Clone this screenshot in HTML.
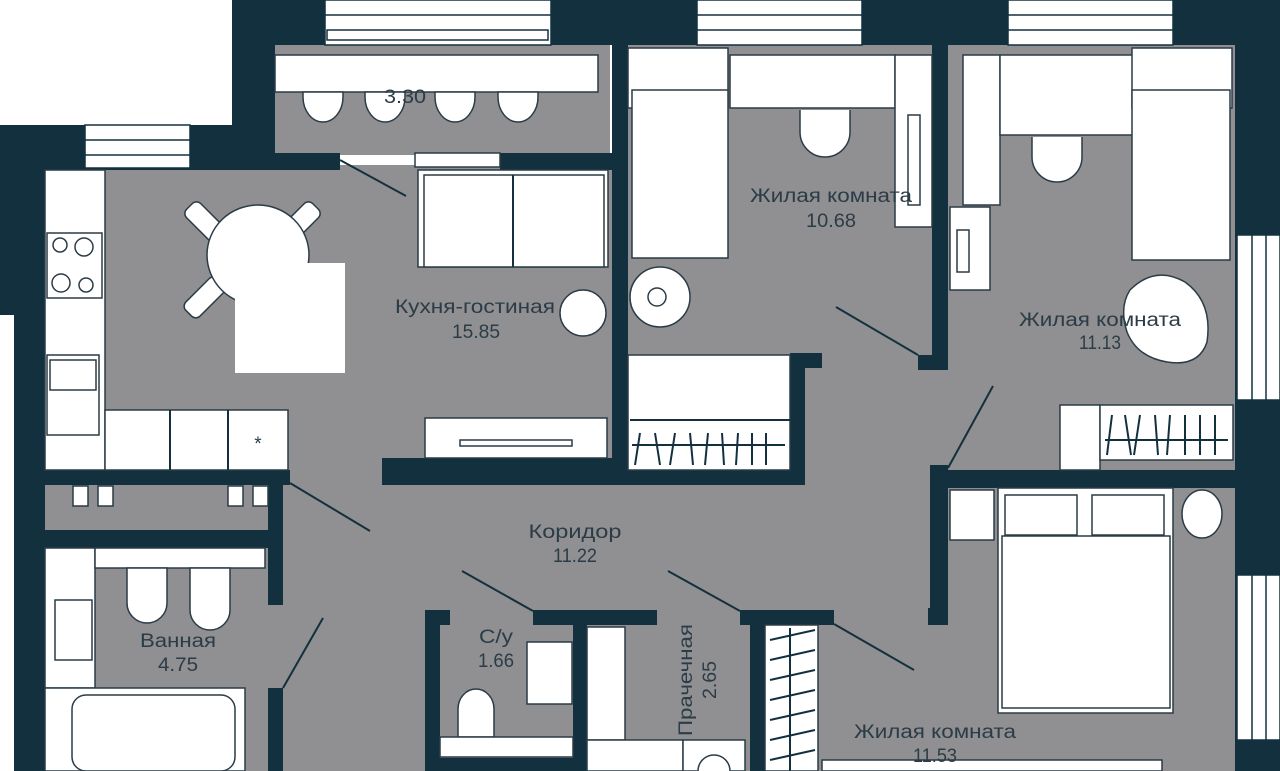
<!DOCTYPE html>
<html><head><meta charset="utf-8"><style>
html,body{margin:0;padding:0;background:#fff;}
svg{display:block}
text{font-family:"Liberation Sans",sans-serif;fill:#2b3c47;font-size:19px;text-anchor:middle}
</style></head><body>
<svg width="1280" height="771" viewBox="0 0 1280 771" xmlns="http://www.w3.org/2000/svg">
<defs><style>.w{fill:#fff;stroke:#2b3c47;stroke-width:1.5}.d{fill:#13303f}.l{stroke:#13303f;stroke-width:2;fill:none}</style></defs>
<rect x="40" y="165" width="1200" height="606" fill="#908f91"/>
<rect x="275" y="45" width="335" height="110" fill="#908f91"/>
<rect x="628" y="45" width="307" height="320" fill="#908f91"/>
<rect x="948" y="45" width="290" height="430" fill="#908f91"/>
<rect class="d" x="232" y="0" width="1048" height="45"/>
<rect class="d" x="232" y="0" width="43" height="170"/>
<rect class="d" x="0" y="125" width="275" height="45"/>
<rect class="d" x="0" y="125" width="45" height="190"/>
<rect class="d" x="14" y="300" width="31" height="471"/>
<rect class="d" x="1235" y="0" width="45" height="771"/>
<g fill="#fff" stroke="#13303f" stroke-width="1.5">
<rect x="325" y="0" width="226" height="45"/><line x1="325" y1="15" x2="551" y2="15"/><rect x="327" y="30" width="221" height="10"/>
<rect x="697" y="0" width="165" height="45"/><line x1="697" y1="15" x2="862" y2="15"/><line x1="697" y1="30" x2="862" y2="30"/>
<rect x="1008" y="0" width="165" height="45"/><line x1="1008" y1="15" x2="1173" y2="15"/><line x1="1008" y1="30" x2="1173" y2="30"/>
<rect x="85" y="125" width="105" height="43"/><line x1="85" y1="140" x2="190" y2="140"/><line x1="85" y1="155" x2="190" y2="155"/>
<rect x="1237" y="235" width="43" height="165"/><line x1="1252" y1="235" x2="1252" y2="400"/><line x1="1266" y1="235" x2="1266" y2="400"/>
<rect x="1237" y="575" width="43" height="165"/><line x1="1252" y1="575" x2="1252" y2="740"/><line x1="1266" y1="575" x2="1266" y2="740"/>
</g>
<rect class="d" x="232" y="153" width="108" height="17"/>
<rect class="d" x="500" y="153" width="128" height="17"/>
<rect class="w" x="415" y="153" width="85" height="14"/>
<rect class="d" x="612" y="45" width="16" height="425"/>
<rect class="d" x="932" y="45" width="16" height="325"/>
<rect class="d" x="918" y="355" width="30" height="15"/>
<rect class="d" x="382" y="458" width="423" height="27"/>
<rect class="d" x="790" y="353" width="15" height="132"/>
<rect class="d" x="790" y="353" width="32" height="15"/>
<rect class="d" x="45" y="470" width="245" height="15"/>
<rect class="d" x="45" y="530" width="238" height="18"/>
<rect class="d" x="268" y="485" width="15" height="120"/>
<rect class="d" x="268" y="688" width="15" height="83"/>
<g class="w"><rect x="73" y="486" width="15" height="20"/><rect x="98" y="486" width="15" height="20"/><rect x="228" y="486" width="15" height="20"/><rect x="253" y="486" width="15" height="20"/></g>
<rect class="d" x="935" y="470" width="300" height="18"/>
<rect class="d" x="930" y="465" width="18" height="160"/>
<rect class="d" x="928" y="608" width="20" height="17"/>
<rect class="d" x="425" y="610" width="15" height="161"/>
<rect class="d" x="425" y="610" width="25" height="15"/>
<rect class="d" x="533" y="610" width="124" height="15"/>
<rect class="d" x="573" y="610" width="14" height="161"/>
<rect class="d" x="440" y="758" width="135" height="13"/>
<rect class="d" x="740" y="610" width="94" height="15"/>
<rect class="d" x="750" y="610" width="15" height="161"/>
<rect class="w" x="275" y="55" width="323" height="37"/>
<g class="w"><path d="M303 92 v5 a20 25 0 0 0 40 0 v-5Z"/><path d="M365 92 v5 a20 25 0 0 0 40 0 v-5Z"/><path d="M435 92 v5 a20 25 0 0 0 40 0 v-5Z"/><path d="M498 92 v5 a20 25 0 0 0 40 0 v-5Z"/></g>
<rect class="w" x="45" y="170" width="60" height="300"/>
<rect class="w" x="47" y="233" width="55" height="65"/>
<circle class="w" cx="60" cy="245" r="7"/><circle class="w" cx="84" cy="247" r="9"/><circle class="w" cx="61" cy="283" r="9"/><circle class="w" cx="86" cy="285" r="7"/>
<rect class="w" x="47" y="355" width="52" height="80"/><rect class="w" x="50" y="360" width="46" height="30"/>
<rect class="w" x="105" y="410" width="183" height="60"/><line class="l" x1="170" y1="410" x2="170" y2="470"/><line class="l" x1="228" y1="410" x2="228" y2="470"/>
<text x="258" y="450" font-size="26">*</text>
<g class="w"><rect x="195" y="200" width="20" height="45" rx="6" transform="rotate(-45 205 222)"/><rect x="290" y="200" width="20" height="45" rx="6" transform="rotate(45 300 222)"/><rect x="195" y="275" width="20" height="45" rx="6" transform="rotate(45 205 297)"/></g>
<ellipse class="w" cx="258" cy="255" rx="51" ry="50"/>
<rect x="235" y="263" width="110" height="110" fill="#fff"/>
<line class="l" x1="340" y1="160" x2="406" y2="196"/>
<rect class="w" x="418" y="170" width="190" height="97"/><rect class="w" x="424" y="175" width="180" height="92"/><line class="l" x1="513" y1="175" x2="513" y2="267"/>
<circle class="w" cx="583" cy="313" r="23"/>
<rect class="w" x="425" y="418" width="182" height="40"/><rect class="w" x="460" y="440" width="112" height="6"/>
<text x="475" y="313" textLength="160" lengthAdjust="spacingAndGlyphs">Кухня-гостиная</text><text x="476" y="338" textLength="48" lengthAdjust="spacingAndGlyphs">15.85</text>
<text x="405" y="103" textLength="42" lengthAdjust="spacingAndGlyphs">3.30</text>
<rect class="w" x="628" y="48" width="100" height="60"/><rect class="w" x="632" y="90" width="96" height="168"/>
<rect class="w" x="730" y="55" width="165" height="53"/>
<rect class="w" x="895" y="55" width="37" height="172"/>
<rect class="w" x="908" y="115" width="12" height="90"/>
<path class="w" d="M800 110 v22 a25 25 0 0 0 50 0 v-22"/>
<circle class="w" cx="660" cy="297" r="30"/><circle class="w" cx="657" cy="297" r="9"/>
<line class="l" x1="836" y1="307" x2="918" y2="355"/>
<rect class="w" x="628" y="355" width="162" height="115"/><line class="l" x1="630" y1="420" x2="790" y2="420"/>
<path class="l" d="M640 433 l-5 32 M655 433 l5 32 M675 433 l-5 32 M690 433 l3 32 M708 433 l-3 32 M722 433 l2 32 M738 433 l-2 32 M752 433 l0 32 M766 433 l0 32 M632 445 H785" stroke-width="1.5"/>
<text x="831" y="202" textLength="162" lengthAdjust="spacingAndGlyphs">Жилая комната</text><text x="831" y="227" textLength="50" lengthAdjust="spacingAndGlyphs">10.68</text>
<rect class="w" x="963" y="55" width="37" height="150"/><rect class="w" x="950" y="207" width="40" height="83"/><rect class="w" x="957" y="230" width="12" height="42"/>
<rect class="w" x="1000" y="55" width="135" height="80"/>
<rect class="w" x="1132" y="48" width="100" height="60"/><rect class="w" x="1132" y="90" width="98" height="170"/>
<path class="w" d="M1032 137 v20 a25 25 0 0 0 50 0 v-20"/>
<path class="w" d="M1130 290 q25 -25 55 -8 q28 20 22 60 q-8 25 -40 20 q-30 -5 -40 -30 q-8 -25 3 -42Z"/>
<line class="l" x1="993" y1="386" x2="948" y2="468"/>
<rect class="w" x="1060" y="405" width="40" height="65"/><rect class="w" x="1100" y="405" width="133" height="55"/>
<path class="l" d="M1112 415 l-5 40 M1125 415 l6 40 M1140 415 l-6 40 M1155 415 l3 40 M1170 415 l-3 40 M1185 415 l0 40 M1200 415 l0 40 M1215 415 l0 40 M1105 440 H1228" stroke-width="1.5"/>
<text x="1100" y="326" textLength="162" lengthAdjust="spacingAndGlyphs">Жилая комната</text><text x="1100" y="349" textLength="42" lengthAdjust="spacingAndGlyphs">11.13</text>
<rect class="w" x="950" y="490" width="44" height="50"/>
<rect class="w" x="998" y="488" width="175" height="225"/><rect class="w" x="1005" y="495" width="72" height="40"/><rect class="w" x="1092" y="495" width="72" height="40"/><rect class="w" x="1002" y="536" width="168" height="172"/>
<ellipse class="w" cx="1202" cy="514" rx="20" ry="24"/>
<rect class="w" x="765" y="625" width="53" height="146"/>
<path class="l" d="M770 640 l45 -10 M770 660 l45 -10 M770 680 l45 -10 M770 700 l45 -10 M770 720 l45 -10 M770 740 l45 -10 M770 760 l45 -10 M790 628 V771" stroke-width="1.5"/>
<line class="l" x1="834" y1="624" x2="914" y2="670"/>
<rect class="w" x="822" y="760" width="340" height="11"/>
<text x="935" y="738" textLength="162" lengthAdjust="spacingAndGlyphs">Жилая комната</text><text x="935" y="762" textLength="44" lengthAdjust="spacingAndGlyphs">11.53</text>
<line class="l" x1="290" y1="483" x2="370" y2="531"/>
<line class="l" x1="462" y1="571" x2="533" y2="611"/>
<line class="l" x1="668" y1="571" x2="740" y2="611"/>
<line class="l" x1="323" y1="618" x2="283" y2="688"/>
<text x="575" y="538" textLength="93" lengthAdjust="spacingAndGlyphs">Коридор</text><text x="575" y="562" textLength="44" lengthAdjust="spacingAndGlyphs">11.22</text>
<rect class="w" x="45" y="548" width="50" height="140"/>
<rect class="w" x="95" y="548" width="170" height="20"/>
<rect class="w" x="55" y="600" width="37" height="60"/>
<path class="w" d="M127 568 v35 a20 20 0 0 0 40 0 v-35Z"/><path class="w" d="M190 568 v42 a20 20 0 0 0 40 0 v-42Z"/>
<rect class="w" x="45" y="688" width="200" height="83"/><rect class="w" x="72" y="695" width="163" height="76" rx="14"/>
<text x="178" y="647" textLength="76" lengthAdjust="spacingAndGlyphs">Ванная</text><text x="178" y="671" textLength="40" lengthAdjust="spacingAndGlyphs">4.75</text>
<rect class="w" x="527" y="642" width="45" height="62"/>
<path class="w" d="M458 737 v-28 a18 20 0 0 1 36 0 v28Z"/>
<rect class="w" x="440" y="737" width="133" height="20"/>
<text x="496" y="643" textLength="34" lengthAdjust="spacingAndGlyphs">С/у</text><text x="496" y="667" textLength="36" lengthAdjust="spacingAndGlyphs">1.66</text>
<rect class="w" x="587" y="627" width="38" height="113"/>
<rect class="w" x="587" y="740" width="96" height="31"/><rect class="w" x="683" y="740" width="62" height="31"/>
<circle class="w" cx="714" cy="771" r="16"/>
<text transform="translate(692 680) rotate(-90)" textLength="112" lengthAdjust="spacingAndGlyphs">Прачечная</text>
<text transform="translate(716 680) rotate(-90)" textLength="38" lengthAdjust="spacingAndGlyphs">2.65</text>
</svg>
</body></html>
